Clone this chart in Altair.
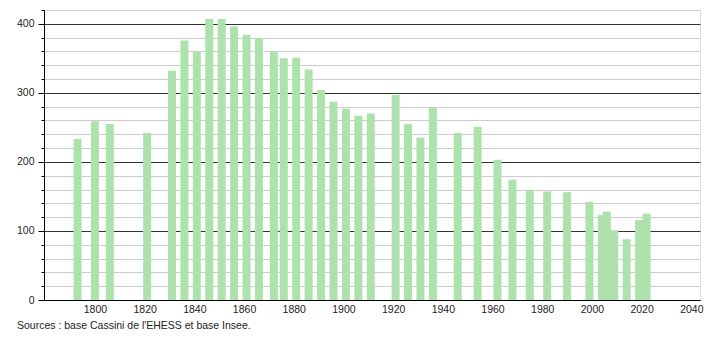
import altair as alt
import pandas as pd

years = [1793, 1800, 1806, 1821, 1831, 1836, 1841, 1846, 1851, 1856, 1861, 1866,
         1872, 1876, 1881, 1886, 1891, 1896, 1901, 1906, 1911, 1921, 1926, 1931,
         1936, 1946, 1954, 1962, 1968, 1975, 1982, 1990, 1999, 2004, 2006, 2009,
         2014, 2019, 2022]
population = [233, 259, 255, 242, 332, 376, 359, 407, 407, 396, 384, 379,
              360, 350, 351, 334, 304, 287, 277, 267, 270, 297, 255, 235,
              278, 242, 251, 203, 174, 159, 157, 156, 142, 123, 128, 101,
              88, 116, 125]
x_ticks = [1800, 1820, 1840, 1860, 1880, 1900, 1920, 1940, 1960, 1980, 2000, 2020, 2040]
y_ticks = list(range(0, 421, 20))
source_text = "Sources : base Cassini de l'EHESS et base Insee."

df = pd.DataFrame({"year": years, "pop": population})

FONT = "Liberation Sans"

chart = alt.Chart(df).mark_bar(size=8, color="#ade2ad").encode(
    x=alt.X("year:Q",
            scale=alt.Scale(domain=[1779.5, 2043.5], nice=False, zero=False, padding=0),
            axis=alt.Axis(values=x_ticks, title=None, grid=False, ticks=False,
                          domainColor="#000", labelFont=FONT, labelFontSize=10.5,
                          labelColor="#222", labelPadding=4, format="d")),
    y=alt.Y("pop:Q",
            scale=alt.Scale(domain=[0, 420], nice=False),
            axis=alt.Axis(values=y_ticks, title=None,
                          labelExpr="datum.value % 100 === 0 ? datum.label : ''",
                          gridColor=alt.condition("datum.value % 100 === 0",
                                                  alt.value("#333333"), alt.value("#cccccc")),
                          tickSize=alt.condition("datum.value % 100 === 0",
                                                 alt.value(6), alt.value(3)),
                          tickColor="#000", domainColor="#000",
                          labelFont=FONT, labelFontSize=10.5, labelColor="#222",
                          labelPadding=4)),
).properties(
    width=656,
    height=290,
    autosize=alt.AutoSizeParams(type="none"),
    padding={"left": 44, "top": 10, "right": 10, "bottom": 40},
    title=alt.TitleParams(source_text, orient="bottom", anchor="start", frame="group",
                          font=FONT, fontSize=10.5, fontWeight="normal",
                          color="#222", dx=-27, offset=6),
).configure_view(stroke=None).configure(background="white")

chart.save("out.html", embed_options={"renderer": "svg", "actions": False})
